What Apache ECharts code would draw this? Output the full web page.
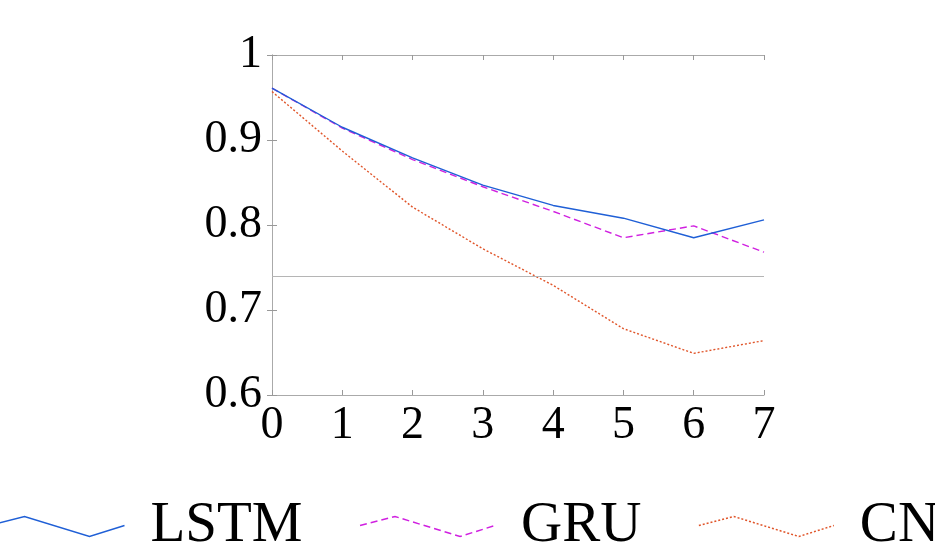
<!DOCTYPE html>
<html>
<head>
<meta charset="utf-8">
<script src="https://cdn.jsdelivr.net/npm/echarts@6/dist/echarts.min.js"></script>
<style>html,body{margin:0;padding:0;background:#fff;}#c{width:935px;height:549px;}</style>
</head>
<body>
<div id="c"></div>
<script>
const xValues = [0, 1, 2, 3, 4, 5, 6, 7];
const lstm = [0.961, 0.915, 0.879, 0.847, 0.823, 0.808, 0.785, 0.806];
const gru  = [0.961, 0.914, 0.877, 0.845, 0.816, 0.785, 0.799, 0.768];
const cnn  = [0.957, 0.887, 0.821, 0.772, 0.729, 0.678, 0.649, 0.664];
const refLine = 0.7365;
const seriesNames = ['LSTM', 'GRU', 'CNN'];
const yTicks = [0.6, 0.7, 0.8, 0.9, 1];

const colors = ['#1f5fd6', '#d020e0', '#e0552a'];
const dashes = ['solid', [7, 4], [2, 2]];
const font = 'Liberation Serif';
const pair = arr => xValues.map((x, i) => [x, arr[i]]);
const zig = 'path://M0,9 L35,0 L100,20 L135,9';

const chart = echarts.init(document.getElementById('c'));
const axisCommon = {
  axisLine: {show: true, lineStyle: {color: '#aaaaaa', width: 1}},
  axisTick: {show: true, inside: true, length: 5, lineStyle: {color: '#999999'}},
  splitLine: {show: false}
};
chart.setOption({
  animation: false,
  backgroundColor: '#ffffff',
  grid: {left: 272, right: 171, top: 55, bottom: 154},
  legend: {
    left: -13, top: 498, width: 1600, padding: 0,
    itemWidth: 135, itemHeight: 20, itemGap: 55,
    textStyle: {fontFamily: font, fontSize: 57, color: '#000', padding: [0, 0, 0, 21]},
    data: seriesNames.map((n, i) => ({
      name: n, icon: zig,
      itemStyle: {color: 'none', borderColor: colors[i], borderWidth: 1.5, borderType: dashes[i]}
    }))
  },
  xAxis: [
    Object.assign({type: 'value', min: 0, max: 7, interval: 1, position: 'bottom',
      axisLabel: {fontFamily: font, fontSize: 46, color: '#000', margin: 8}}, axisCommon),
    Object.assign({type: 'value', min: 0, max: 7, interval: 1, position: 'top',
      axisLabel: {show: false}}, axisCommon)
  ],
  yAxis: [
    Object.assign({type: 'value', min: 0.6, max: 1, interval: 0.1, position: 'left',
      axisLabel: {fontFamily: font, fontSize: 46, color: '#000', margin: 10,
        formatter: v => (Math.abs(v - 1) < 1e-9 ? '1' : v.toFixed(1))}}, axisCommon),
    Object.assign({type: 'value', min: 0.6, max: 1, interval: 0.1, position: 'right',
      axisLabel: {show: false}}, axisCommon)
  ],
  series: [lstm, gru, cnn].map((d, i) => ({
    name: seriesNames[i], type: 'line', data: pair(d), symbol: 'none',
    lineStyle: {color: colors[i], width: 1.4, type: dashes[i]},
    itemStyle: {color: colors[i]},
    z: 3 - i,
    markLine: i === 0 ? {
      silent: true, symbol: 'none', label: {show: false},
      lineStyle: {color: '#b5b5b5', width: 1, type: 'solid'},
      data: [{yAxis: refLine}]
    } : undefined
  }))
});
</script>
</body>
</html>
